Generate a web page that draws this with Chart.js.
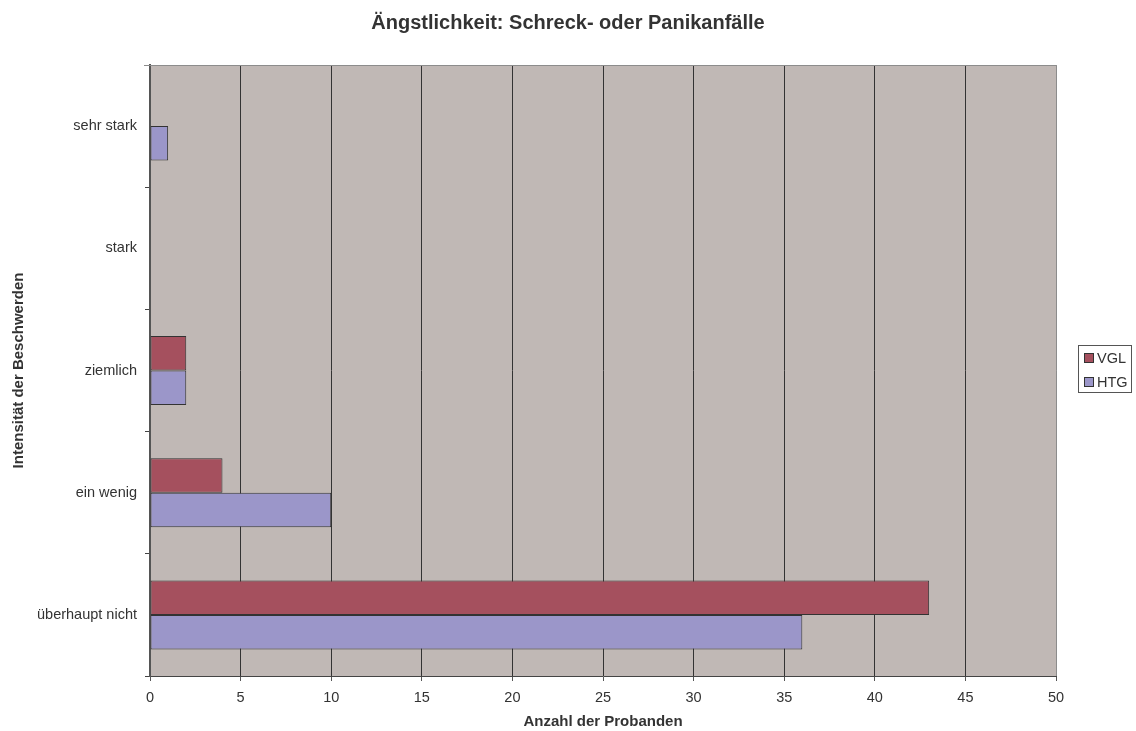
<!DOCTYPE html>
<html>
  <head>
    <meta charset="utf-8" />
    <script src="https://cdn.jsdelivr.net/npm/chart.js@4.4.0/dist/chart.umd.min.js"></script>
    <style>
      body { margin: 0; background: #fff; }
    </style>
  </head>
  <body>
    <canvas id="myChart" width="1136" height="731"></canvas>

    <script>
      // categories top to bottom
      const categories = ["sehr stark", "stark", "ziemlich", "ein wenig", "überhaupt nicht"];
      const vglValues = [0, 0, 2, 4, 43];
      const htgValues = [1, 0, 2, 10, 36];
      const seriesNames = ["VGL", "HTG"];
      const seriesColors = ["#A5505E", "#9B96C9"];
      const chartTitle = "Ängstlichkeit: Schreck- oder Panikanfälle";

      const FONT = "'Liberation Sans', Arial, sans-serif";
      const TEXT = "#333333";

      // plot background + frame (top / right edges are grey in the original)
      const plotFrame = {
        id: "plotFrame",
        beforeDraw(chart) {
          const { ctx, chartArea: a } = chart;
          ctx.save();
          ctx.fillStyle = "#C0B8B5";
          ctx.fillRect(a.left, a.top, a.right - a.left, a.bottom - a.top);
          ctx.restore();
        },
        afterDatasetsDraw(chart) {
          const { ctx, chartArea: a } = chart;
          ctx.save();
          ctx.strokeStyle = "#8c8c8c";
          ctx.lineWidth = 1;
          ctx.beginPath();
          ctx.moveTo(a.left - 6, a.top + 0.5);
          ctx.lineTo(a.right + 0.5, a.top + 0.5);
          ctx.lineTo(a.right + 0.5, a.bottom);
          ctx.stroke();
          ctx.restore();
        },
      };

      // title centred on the whole canvas (the built-in one ignores the right margin)
      const pageTitle = {
        id: "pageTitle",
        afterDraw(chart) {
          const { ctx } = chart;
          ctx.save();
          ctx.font = "bold 20px " + FONT;
          ctx.fillStyle = TEXT;
          ctx.textAlign = "center";
          ctx.textBaseline = "middle";
          ctx.fillText(chartTitle, chart.width / 2, 23);
          ctx.restore();
        },
      };

      // boxed legend on the right, like the spreadsheet one
      const boxLegend = {
        id: "boxLegend",
        afterDraw(chart) {
          const { ctx } = chart;
          const x = 1078, y = 345, w = 53, h = 47;
          ctx.save();
          ctx.fillStyle = "#fff";
          ctx.fillRect(x, y, w, h);
          ctx.strokeStyle = "#555";
          ctx.lineWidth = 1;
          ctx.strokeRect(x + 0.5, y + 0.5, w, h);
          ctx.font = "14.5px " + FONT;
          ctx.textBaseline = "middle";
          chart.data.datasets.forEach((ds, i) => {
            const cy = y + 13 + i * 24;
            ctx.fillStyle = ds.backgroundColor;
            ctx.fillRect(x + 6, cy - 5, 10, 10);
            ctx.strokeStyle = "#333";
            ctx.strokeRect(x + 6.5, cy - 4.5, 9, 9);
            ctx.fillStyle = TEXT;
            ctx.fillText(ds.label, x + 19, cy + 1);
          });
          ctx.restore();
        },
      };

      const data = {
        labels: categories,
        datasets: [
          {
            label: seriesNames[0],
            data: vglValues,
            backgroundColor: seriesColors[0],
            borderColor: "#333",
            borderWidth: 1,
            borderSkipped: false,
            categoryPercentage: 0.565,
            barPercentage: 1.0,
          },
          {
            label: seriesNames[1],
            data: htgValues,
            backgroundColor: seriesColors[1],
            borderColor: "#333",
            borderWidth: 1,
            borderSkipped: false,
            categoryPercentage: 0.565,
            barPercentage: 1.0,
          },
        ],
      };

      const config = {
        type: "bar",
        data: data,
        plugins: [plotFrame, pageTitle, boxLegend],
        options: {
          indexAxis: "y",
          responsive: false,
          animation: false,
          layout: { padding: { left: 0, right: 80, top: 65, bottom: 0 } },
          scales: {
            x: {
              min: 0,
              max: 50,
              ticks: {
                stepSize: 5,
                color: TEXT,
                padding: 8,
                font: { family: FONT, size: 14.5 },
              },
              grid: {
                color: (c) => (c.tick && c.tick.value === 50 ? "#9a9a9a" : "#333333"),
                tickColor: "#555",
                tickLength: 5,
                lineWidth: 1,
              },
              border: { display: true, color: "#444", width: 1 },
              title: {
                display: true,
                text: "Anzahl der Probanden",
                color: TEXT,
                font: { family: FONT, size: 15, weight: "bold" },
                padding: { top: 0, bottom: 0 },
              },
              afterFit: (s) => { s.height = 55; },
            },
            y: {
              ticks: {
                color: TEXT,
                padding: 8,
                font: { family: FONT, size: 14.5 },
              },
              grid: {
                drawOnChartArea: false,
                tickColor: "#444",
                tickLength: 5,
                offset: true,
              },
              border: { display: true, color: "#555", width: 2 },
              title: {
                display: true,
                text: "Intensität der Beschwerden",
                color: TEXT,
                font: { family: FONT, size: 15, weight: "bold" },
                padding: { top: 9.5, bottom: 0 },
              },
              afterFit: (s) => { s.width = 150; },
            },
          },
          plugins: {
            legend: { display: false },
            tooltip: { enabled: false },
            title: { display: false },
          },
        },
      };

      const myChart = new Chart(document.getElementById("myChart"), config);
    </script>
  </body>
</html>
